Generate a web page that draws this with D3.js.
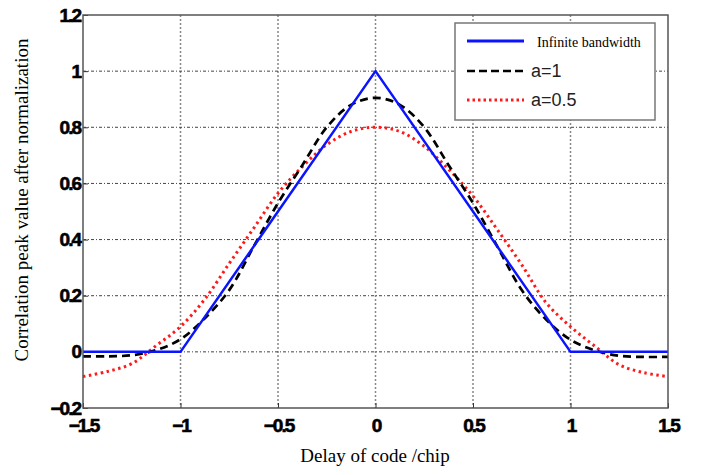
<!DOCTYPE html>
<html>
<head>
<meta charset="utf-8">
<script src="https://cdn.jsdelivr.net/npm/d3@7"></script>
<style>
    body { margin: 0; background: #fff; }
    .tick-label { font-family: "Liberation Sans", Arial, sans-serif; font-weight: bold; font-size: 19px; letter-spacing: -2px; stroke: #000; stroke-width: 0.6px; }
    .axis-title { font-family: "Liberation Serif", "Times New Roman", serif; font-size: 19px; }
</style>
</head>
<body>
<svg id="chart" width="708" height="475"></svg>
<script>
"use strict";

// delays (chip)
const delays = [-1.5, -1.375, -1.25, -1.125, -1, -0.875, -0.75, -0.625, -0.5, -0.375, -0.25, -0.125,
    0, 0.125, 0.25, 0.375, 0.5, 0.625, 0.75, 0.875, 1, 1.125, 1.25, 1.375, 1.5];
// a=1
const seriesA1 = [-0.016, -0.016, -0.012, 0.006, 0.045, 0.12, 0.22, 0.375, 0.53, 0.665, 0.80, 0.88,
    0.905, 0.88, 0.80, 0.665, 0.53, 0.375, 0.22, 0.115, 0.043, 0.005, -0.014, -0.018, -0.018];
// a=0.5
const seriesA05 = [-0.088, -0.07, -0.042, 0.022, 0.09, 0.188, 0.315, 0.44, 0.565, 0.66, 0.738, 0.785,
    0.80, 0.785, 0.732, 0.65, 0.555, 0.435, 0.31, 0.175, 0.09, 0.02, -0.046, -0.074, -0.088];
// infinite bandwidth: triangle
const idealX = [-1.5, -1, 0, 1, 1.5];
const idealY = [0, 0, 1, 0, 0];

const xTicks = [-1.5, -1, -0.5, 0, 0.5, 1, 1.5];
const yTicks = [-0.2, 0, 0.2, 0.4, 0.6, 0.8, 1, 1.2];

const legendNames = ["Infinite bandwidth", "a=1", "a=0.5"];

function main() {
    const svg = d3.select("#chart");
    const plot = {left: 83, right: 668, top: 15, bottom: 408};

    const xScale = d3.scaleLinear().domain([-1.5, 1.5]).range([plot.left, plot.right]);
    const yScale = d3.scaleLinear().domain([-0.2, 1.2]).range([plot.bottom, plot.top]);

    // grid
    const grid = svg.append("g");
    grid.selectAll(".vgrid")
        .data(xTicks.slice(1, -1))
        .enter().append("line")
        .attr("x1", d => xScale(d)).attr("x2", d => xScale(d))
        .attr("y1", plot.top).attr("y2", plot.bottom)
        .attr("stroke", "#888").attr("stroke-width", 1.5)
        .attr("stroke-dasharray", "2,2");
    grid.selectAll(".hgrid")
        .data(yTicks.slice(1, -1))
        .enter().append("line")
        .attr("x1", plot.left).attr("x2", plot.right)
        .attr("y1", d => yScale(d)).attr("y2", d => yScale(d))
        .attr("stroke", "#444").attr("stroke-width", 1)
        .attr("stroke-dasharray", "3,2,1,2");

    // axes (ticks point inward like matlab)
    const xAxis = d3.axisBottom(xScale).tickValues(xTicks).tickSize(-5).tickPadding(10)
        .tickFormat(d => d3.format("")(d));
    const yAxis = d3.axisLeft(yScale).tickValues(yTicks).tickSize(-5).tickPadding(4)
        .tickFormat(d => d3.format("")(+d.toFixed(1)));
    const gx = svg.append("g")
        .attr("transform", "translate(0," + plot.bottom + ")")
        .call(xAxis);
    const gy = svg.append("g")
        .attr("transform", "translate(" + plot.left + ",0)")
        .call(yAxis);
    [gx, gy].forEach(function (g) {
        g.select(".domain").remove();
        g.selectAll(".tick line").attr("stroke", "#333");
        g.selectAll(".tick text").attr("class", "tick-label").attr("fill", "#000");
    });
    gx.selectAll(".tick text").attr("dy", "0.62em").attr("y", 12);
    gy.selectAll(".tick text").attr("x", -3);

    // curves
    const line = d3.line()
        .x(d => xScale(d[0]))
        .y(d => yScale(d[1]));
    const smooth = d3.line()
        .x(d => xScale(d[0]))
        .y(d => yScale(d[1]))
        .curve(d3.curveCatmullRom);

    svg.append("path")
        .datum(delays.map((x, i) => [x, seriesA05[i]]))
        .attr("d", smooth)
        .attr("fill", "none").attr("stroke", "#ff1a1a").attr("stroke-width", 3)
        .attr("stroke-dasharray", "2.5,3.5");
    svg.append("path")
        .datum(delays.map((x, i) => [x, seriesA1[i]]))
        .attr("d", smooth)
        .attr("fill", "none").attr("stroke", "#000").attr("stroke-width", 2.7)
        .attr("stroke-dasharray", "8,5");
    svg.append("path")
        .datum(idealX.map((x, i) => [x, idealY[i]]))
        .attr("d", line)
        .attr("fill", "none").attr("stroke", "#0a14ff").attr("stroke-width", 2.5);

    // box
    svg.append("rect")
        .attr("x", plot.left).attr("y", plot.top)
        .attr("width", plot.right - plot.left).attr("height", plot.bottom - plot.top)
        .attr("fill", "none").attr("stroke", "#555").attr("stroke-width", 1.5);

    // legend
    const legend = svg.append("g");
    legend.append("rect")
        .attr("x", 455).attr("y", 23).attr("width", 200).attr("height", 97)
        .attr("fill", "#fff").attr("stroke", "#777").attr("stroke-width", 1.5);
    const styles = [
        {color: "#0a14ff", width: 3, dash: null},
        {color: "#000", width: 2.5, dash: "8,4"},
        {color: "#ff1a1a", width: 3, dash: "2.5,3"}
    ];
    const rowY = [41, 71, 100];
    legendNames.forEach(function (name, i) {
        legend.append("line")
            .attr("x1", 467).attr("x2", 524)
            .attr("y1", rowY[i]).attr("y2", rowY[i])
            .attr("stroke", styles[i].color).attr("stroke-width", styles[i].width)
            .attr("stroke-dasharray", styles[i].dash);
        const t = legend.append("text")
            .attr("x", i === 0 ? 537 : 531).attr("y", rowY[i] + 6)
            .text(name);
        if (i === 0) {
            t.attr("font-family", "Liberation Serif, serif").attr("font-size", "14px");
        } else {
            t.attr("font-family", "Liberation Sans, Arial, sans-serif").attr("font-size", "18px")
                .attr("fill", "#222");
        }
    });

    // axis titles
    svg.append("text")
        .attr("class", "axis-title")
        .attr("x", 375).attr("y", 462)
        .attr("text-anchor", "middle")
        .text("Delay of code /chip");
    svg.append("text")
        .attr("class", "axis-title")
        .attr("transform", "translate(28,200) rotate(-90)")
        .attr("text-anchor", "middle")
        .text("Correlation peak value after normalization");
}

main();
</script>
</body>
</html>
